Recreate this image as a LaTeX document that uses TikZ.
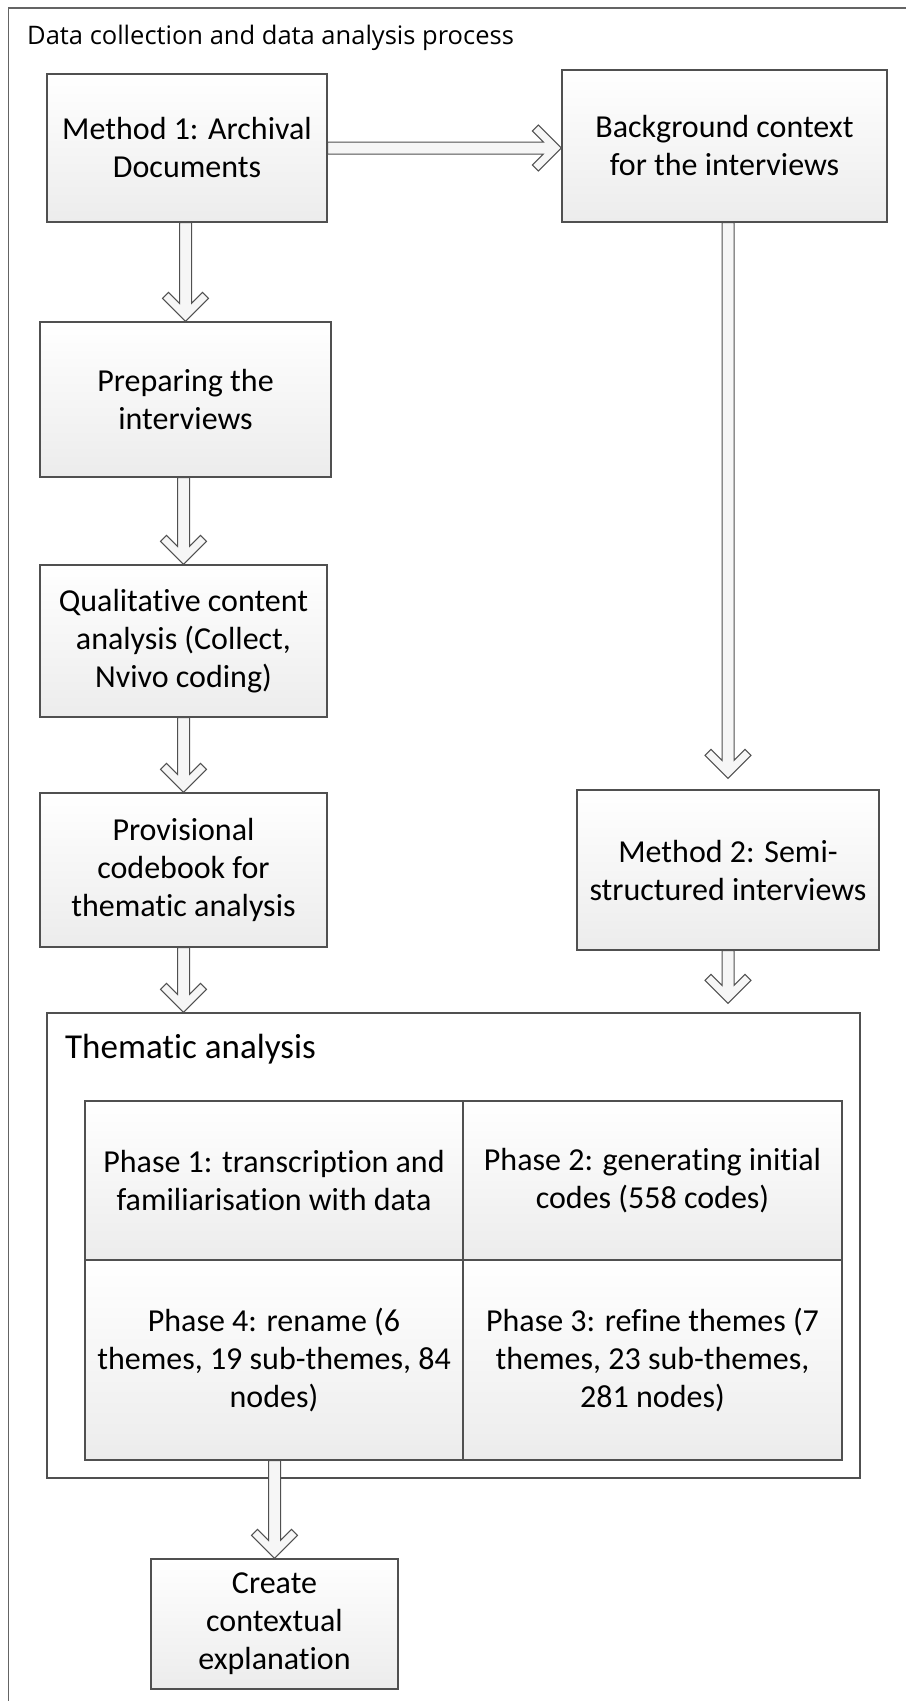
\documentclass[tikz,border=0pt]{standalone}
\usepackage{fontspec}
\setmainfont{Carlito}[Ligatures=NoCommon]
\newfontfamily\headfont{Open Sans}
\usetikzlibrary{calc}

\definecolor{linec}{RGB}{80,80,80}
\definecolor{framec}{RGB}{100,100,100}
\definecolor{boxbot}{RGB}{236,236,236}
\definecolor{arrowfill}{RGB}{246,246,246}

% block-arrow geometry: shaft half width, wing reach, arm offset
\def\ars{6pt}
\def\ara{23pt}
\def\ard{6pt}

% open block arrow pointing down, from #1 (top of shaft) to tip #2
\newcommand\blockdown[2]{%
  \path let \p1=(#1), \p2=(#2) in
    [blockarrow] (\x2-\ars,\y1) -- (\x2-\ars,\y2+2*\ard+\ars)
    -- (\x2-\ara+\ard,\y2+\ara+\ard) -- (\x2-\ara,\y2+\ara)
    -- (\x2,\y2)
    -- (\x2+\ara,\y2+\ara) -- (\x2+\ara-\ard,\y2+\ara+\ard)
    -- (\x2+\ars,\y2+2*\ard+\ars) -- (\x2+\ars,\y1) -- cycle;}

% open block arrow pointing right, from #1 (start of shaft) to tip #2
\newcommand\blockright[2]{%
  \path let \p1=(#1), \p2=(#2) in
    [blockarrow] (\x1,\y2+\ars) -- (\x2-2*\ard-\ars,\y2+\ars)
    -- (\x2-\ara-\ard,\y2+\ara-\ard) -- (\x2-\ara,\y2+\ara)
    -- (\x2,\y2)
    -- (\x2-\ara,\y2-\ara) -- (\x2-\ara-\ard,\y2-\ara+\ard)
    -- (\x2-2*\ard-\ars,\y2-\ars) -- (\x1,\y2-\ars) -- cycle;}

\tikzset{
  box/.style={draw=linec, line width=1.2pt, top color=white, bottom color=boxbot,
    inner sep=0pt, align=center, font=\fontsize{32}{38}\selectfont},
  container/.style={draw=linec, line width=1.2pt, fill=white, inner sep=0pt},
  blockarrow/.style={draw=linec, line width=1pt, fill=arrowfill, line join=miter},
  heading/.style={inner sep=0pt, anchor=base west},
}

\begin{document}
\begin{tikzpicture}[x=1pt,y=-1pt]
\useasboundingbox (0,0) rectangle (906,1701);
\fill[white] (0,0) rectangle (906,1701);

% outer frame (runs off the right and bottom edges)
\draw[framec, line width=1.2pt] (8.5,1701) -- (8.5,8) -- (906,8);
\node[heading, font=\headfont\fontsize{25.5}{30}\selectfont] (title) at (27,44)
  {Data collection and data analysis process};

% left column
\node[box, minimum width=280, minimum height=148] (m1) at (187,148)
  {Method 1: Archival\\Documents};
\node[box, minimum width=291, minimum height=155] (prep) at (185.5,399.5)
  {Preparing the\\interviews};
\node[box, minimum width=287, minimum height=152] (qual) at (183.5,641)
  {Qualitative content\\analysis (Collect,\\Nvivo coding)};
\node[box, minimum width=287, minimum height=154] (prov) at (183.5,870)
  {Provisional\\codebook for\\thematic analysis};

% right column
\node[box, minimum width=325, minimum height=152] (bg) at (724.5,146)
  {Background context\\for the interviews};
\node[box, minimum width=302, minimum height=160] (m2) at (728,870)
  {Method 2: Semi-\\structured interviews};

% thematic analysis container with its four phases
\node[container, minimum width=813, minimum height=465] (them) at (453.5,1245.5) {};
\node[heading, font=\fontsize{35}{40}\selectfont] (themtitle) at (65,1058)
  {Thematic analysis};
\node[box, minimum width=378, minimum height=159] (p1) at (274,1180.5)
  {Phase 1: transcription and\\familiarisation with data};
\node[box, minimum width=379, minimum height=159] (p2) at (652.5,1180.5)
  {Phase 2: generating initial\\codes (558 codes)};
\node[box, minimum width=378, minimum height=200] (p4) at (274,1360)
  {Phase 4: rename (6\\themes, 19 sub-themes, 84\\nodes)};
\node[box, minimum width=379, minimum height=200] (p3) at (652.5,1360)
  {Phase 3: refine themes (7\\themes, 23 sub-themes,\\281 nodes)};

\node[box, minimum width=247, minimum height=130] (create) at (274.5,1624)
  {Create\\contextual\\explanation};

% connectors
\blockright{m1.east}{bg.west |- m1.east}
\blockdown{m1.south}{prep.north}
\blockdown{prep.south}{qual.north}
\blockdown{qual.south}{prov.north}
\blockdown{prov.south}{prov.south |- them.north}
\coordinate (bgtip) at ($(m2.north)+(0,-11)$);
\blockdown{bg.south -| bgtip}{bgtip}
\coordinate (m2tip) at ($(them.north -| m2.south)+(0,-9)$);
\blockdown{m2.south}{m2tip}
\blockdown{p4.south -| create.north}{create.north}
\end{tikzpicture}
\end{document}
